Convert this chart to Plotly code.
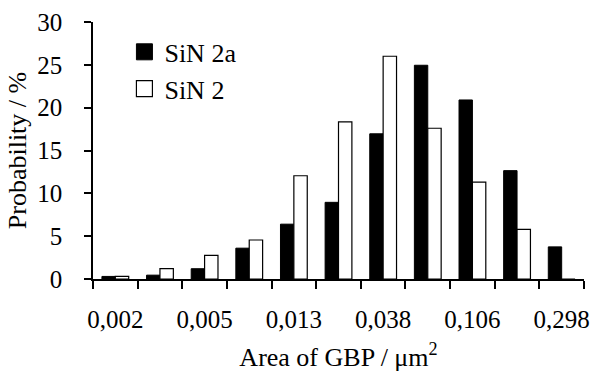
import plotly.graph_objects as go

categories = list(range(1, 12))
tick_positions = [1, 3, 5, 7, 9, 11]
tick_labels = ["0,002", "0,005", "0,013", "0,038", "0,106", "0,298"]
boundaries = [0.5 + i for i in range(12)]
sin2a = [0.3, 0.45, 1.2, 3.6, 6.4, 8.95, 16.95, 24.95, 20.9, 12.65, 3.75]
sin2 = [0.3, 1.2, 2.75, 4.55, 12.05, 18.35, 26.0, 17.6, 11.3, 5.8, 0.0]

FONT = "Liberation Serif"

fig = go.Figure()
fig.add_trace(go.Bar(x=categories, y=sin2a, name="SiN 2a", showlegend=False,
                     marker=dict(color="black", line=dict(color="black", width=1))))
fig.add_trace(go.Bar(x=categories, y=sin2, name="SiN 2", showlegend=False,
                     marker=dict(color="white", line=dict(color="black", width=1.2))))
# legend swatches
fig.add_trace(go.Scatter(x=[None], y=[None], mode="markers", name="SiN 2a",
                         marker=dict(symbol="square", size=18, color="black",
                                     line=dict(color="black", width=1))))
fig.add_trace(go.Scatter(x=[None], y=[None], mode="markers", name="SiN 2",
                         marker=dict(symbol="square", size=17, color="white",
                                     line=dict(color="black", width=1.2))))

fig.update_layout(
    template="none",
    width=591, height=373,
    margin=dict(l=93, r=7, t=22, b=94),
    paper_bgcolor="white", plot_bgcolor="white",
    barmode="group", bargap=0.4, bargroupgap=0,
    font=dict(family=FONT, size=25, color="black"),
    showlegend=True,
    legend=dict(x=0.064, y=0.975, xanchor="left", yanchor="top",
                bgcolor="rgba(0,0,0,0)", font=dict(family=FONT, size=26, color="black"),
                itemsizing="trace", tracegroupgap=0),
    xaxis=dict(range=[0.5, 11.5], tickmode="array", tickvals=tick_positions,
               ticktext=tick_labels, ticks="", showgrid=False, zeroline=False,
               showline=True, linecolor="black", linewidth=1.5,
               ticklabelstandoff=17,
               tickfont=dict(family=FONT, size=25, color="black"),
               minor=dict(tickmode="array", tickvals=boundaries, ticks="outside",
                          ticklen=8, tickcolor="black", tickwidth=1.5, showgrid=False),
               title=dict(text="Area of GBP / μm<sup>2</sup>", font=dict(family=FONT, size=26, color="black"), standoff=16)),
    yaxis=dict(range=[0, 30], dtick=5, ticks="outside", ticklen=7, tickcolor="black",
               tickwidth=1.5, showgrid=False, zeroline=False, showline=True,
               linecolor="black", linewidth=1.5, ticklabelstandoff=17,
               tickfont=dict(family=FONT, size=25, color="black"),
               title=dict(text="Probability / %", font=dict(family=FONT, size=26, color="black"), standoff=3)),
)

fig.write_html("out.html")
